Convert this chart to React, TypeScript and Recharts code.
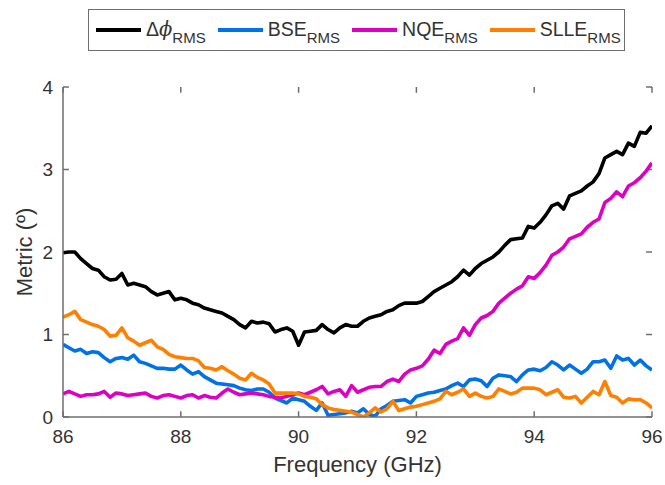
import { LineChart, Line, XAxis, YAxis, ReferenceLine, Legend } from "recharts";

const FREQ = [
  86.0, 86.1, 86.2, 86.3, 86.4, 86.5, 86.6, 86.7, 86.8, 86.9,
  87.0, 87.1, 87.2, 87.3, 87.4, 87.5, 87.6, 87.7, 87.8, 87.9,
  88.0, 88.1, 88.2, 88.3, 88.4, 88.5, 88.6, 88.7, 88.8, 88.9,
  89.0, 89.1, 89.2, 89.3, 89.4, 89.5, 89.6, 89.7, 89.8, 89.9,
  90.0, 90.1, 90.2, 90.3, 90.4, 90.5, 90.6, 90.7, 90.8, 90.9,
  91.0, 91.1, 91.2, 91.3, 91.4, 91.5, 91.6, 91.7, 91.8, 91.9,
  92.0, 92.1, 92.2, 92.3, 92.4, 92.5, 92.6, 92.7, 92.8, 92.9,
  93.0, 93.1, 93.2, 93.3, 93.4, 93.5, 93.6, 93.7, 93.8, 93.9,
  94.0, 94.1, 94.2, 94.3, 94.4, 94.5, 94.6, 94.7, 94.8, 94.9,
  95.0, 95.1, 95.2, 95.3, 95.4, 95.5, 95.6, 95.7, 95.8, 95.9,
  96.0,
];

// delta phi RMS
const DPHI = [
  1.99, 2.0, 2.0, 1.92, 1.86, 1.8, 1.78, 1.7, 1.66, 1.67,
  1.74, 1.6, 1.62, 1.6, 1.58, 1.52, 1.48, 1.5, 1.52, 1.42,
  1.44, 1.42, 1.38, 1.36, 1.32, 1.3, 1.28, 1.26, 1.22, 1.18,
  1.12, 1.08, 1.16, 1.14, 1.15, 1.13, 1.03, 1.06, 1.08, 1.04,
  0.87, 1.03, 1.04, 1.05, 1.12, 1.06, 1.02, 1.08, 1.12, 1.1,
  1.1, 1.16, 1.2, 1.22, 1.24, 1.28, 1.3, 1.35, 1.38, 1.38,
  1.38, 1.4, 1.46, 1.52, 1.56, 1.6, 1.64, 1.7, 1.78, 1.72,
  1.8, 1.86, 1.9, 1.94, 2.0, 2.08, 2.15, 2.16, 2.17, 2.31,
  2.29, 2.36, 2.45, 2.56, 2.59, 2.52, 2.68, 2.71, 2.74, 2.8,
  2.85, 2.95, 3.14, 3.18, 3.22, 3.18, 3.32, 3.28, 3.45, 3.44,
  3.53,
];

const BSE = [
  0.88, 0.84, 0.8, 0.82, 0.77, 0.79, 0.78, 0.72, 0.67, 0.71,
  0.72, 0.7, 0.75, 0.67, 0.65, 0.62, 0.59, 0.59, 0.58, 0.58,
  0.63, 0.57, 0.52, 0.55, 0.49, 0.45, 0.41, 0.4, 0.39, 0.38,
  0.35, 0.33, 0.32, 0.34, 0.34, 0.3, 0.23, 0.2, 0.17, 0.23,
  0.21, 0.19, 0.13, 0.08, 0.17, 0.02, 0.03, 0.04, 0.05, 0.07,
  0.05, 0.1, 0.03, 0.01, 0.1, 0.14, 0.19, 0.2, 0.21, 0.17,
  0.25, 0.27, 0.29, 0.3, 0.32, 0.34, 0.38, 0.41, 0.37, 0.45,
  0.46, 0.44, 0.37, 0.47, 0.51, 0.5, 0.49, 0.43, 0.51, 0.57,
  0.58, 0.56, 0.6, 0.67, 0.63, 0.57, 0.63, 0.58, 0.53, 0.58,
  0.67, 0.67, 0.69, 0.59, 0.74, 0.69, 0.71, 0.63, 0.69, 0.62,
  0.57,
];

const NQE = [
  0.28, 0.31, 0.28, 0.25, 0.27, 0.27, 0.28, 0.31, 0.24, 0.29,
  0.28, 0.26, 0.27, 0.28, 0.29, 0.25, 0.23, 0.26, 0.27, 0.25,
  0.23, 0.26, 0.27, 0.23, 0.26, 0.24, 0.23, 0.29, 0.34, 0.3,
  0.27, 0.28, 0.29, 0.28, 0.27, 0.25, 0.24, 0.23, 0.25, 0.27,
  0.29, 0.27, 0.3, 0.33, 0.37, 0.28, 0.31, 0.33, 0.25, 0.38,
  0.3, 0.33, 0.36, 0.37, 0.37, 0.43, 0.46, 0.43, 0.52, 0.57,
  0.59, 0.62, 0.7, 0.81, 0.77, 0.88, 0.92, 0.95, 1.08, 0.99,
  1.12, 1.2, 1.23, 1.28, 1.38, 1.44, 1.5, 1.55, 1.59, 1.7,
  1.68, 1.75, 1.84, 1.96, 2.0, 2.06, 2.16, 2.19, 2.22, 2.3,
  2.36, 2.4, 2.6, 2.65, 2.73, 2.67, 2.8, 2.84, 2.9, 2.98,
  3.08,
];

const SLLE = [
  1.21, 1.24, 1.28, 1.18, 1.15, 1.12, 1.1, 1.06, 0.98, 0.99,
  1.08, 0.96, 0.92, 0.87, 0.9, 0.93, 0.85, 0.82, 0.76, 0.73,
  0.72, 0.71, 0.71, 0.68, 0.6, 0.59, 0.57, 0.61, 0.56, 0.52,
  0.47, 0.45, 0.53, 0.48, 0.45, 0.4, 0.29, 0.29, 0.29, 0.29,
  0.28, 0.25, 0.24, 0.22, 0.15, 0.11, 0.09, 0.08, 0.07, 0.06,
  0.03, 0.0, 0.05, 0.11, 0.06, 0.1, 0.19, 0.08, 0.1, 0.12,
  0.13, 0.15, 0.17, 0.19, 0.22, 0.31, 0.27, 0.3, 0.34, 0.25,
  0.29, 0.25, 0.23, 0.25, 0.34, 0.31, 0.28, 0.3, 0.35, 0.35,
  0.35, 0.33, 0.27, 0.3, 0.33, 0.24, 0.23, 0.25, 0.17, 0.24,
  0.31, 0.27, 0.43, 0.26, 0.24, 0.17, 0.22, 0.21, 0.21, 0.17,
  0.11,
];

const X_TICKS = [86, 88, 90, 92, 94, 96];
const Y_TICKS = [0, 1, 2, 3, 4];

const SERIES = [
  { key: "dphi", main: "\u0394", sub: "RMS", color: "#000000" },
  { key: "bse", main: "BSE", sub: "RMS", color: "#0072e6" },
  { key: "nqe", main: "NQE", sub: "RMS", color: "#dc00c4" },
  { key: "slle", main: "SLLE", sub: "RMS", color: "#ff8000" },
];

const data = FREQ.map((f, i) => ({
  f,
  dphi: DPHI[i],
  bse: BSE[i],
  nqe: NQE[i],
  slle: SLLE[i],
}));

const FONT = "'Liberation Sans', Arial, sans-serif";
const AXIS = "#6e6e6e";
const TEXT = "#333333";

const LegendBox = () => (
  <div
    style={{
      display: "flex",
      alignItems: "center",
      height: "100%",
      boxSizing: "border-box",
      border: `1.5px solid ${AXIS}`,
      background: "#fff",
      paddingLeft: 7,
      fontFamily: FONT,
      color: TEXT,
      whiteSpace: "nowrap",
    }}
  >
    {SERIES.map((s) => (
      <div key={s.key} style={{ display: "flex", alignItems: "center", marginRight: 12 }}>
        <div style={{ width: 45, height: 3.5, background: s.color, marginRight: 5 }} />
        <span style={{ fontSize: 19.5, lineHeight: "20px" }}>
          {s.main}
          {s.key === "dphi" && (
            <span style={{ fontFamily: "'DejaVu Serif', serif", fontStyle: "italic" }}>{"\u03d5"}</span>
          )}
          <span style={{ fontSize: 15, position: "relative", top: 7 }}>{s.sub}</span>
        </span>
      </div>
    ))}
  </div>
);

const YLabel = () => {
  const cx = 24;
  const cy = 252;
  return (
    <text
      x={cx}
      y={cy}
      transform={`rotate(-90 ${cx} ${cy})`}
      textAnchor="middle"
      dominantBaseline="central"
      fontFamily={FONT}
      fontSize={22}
      fill={TEXT}
    >
      Metric (º)
    </text>
  );
};

export default function App() {
  return (
    <div style={{ position: "absolute", left: 0, top: 0, width: 665, height: 485, background: "#fff" }}>
      <LineChart
        width={665}
        height={485}
        data={data}
        margin={{ top: 87, right: 13, bottom: 38, left: 23 }}
      >
        <XAxis
          dataKey="f"
          type="number"
          domain={[86, 96]}
          ticks={X_TICKS}
          allowDataOverflow
          height={30}
          tickSize={0}
          tickMargin={13}
          tickLine={false}
          axisLine={{ stroke: AXIS, strokeWidth: 1.5 }}
          tick={{ fontSize: 19, fill: TEXT, fontFamily: FONT }}
          label={{
            value: "Frequency (GHz)",
            position: "bottom",
            offset: 9,
            fontSize: 22,
            fill: TEXT,
            fontFamily: FONT,
          }}
        />
        <XAxis
          xAxisId="top"
          orientation="top"
          dataKey="f"
          type="number"
          domain={[86, 96]}
          height={0}
          tick={false}
          tickLine={false}
          axisLine={{ stroke: AXIS, strokeWidth: 1.5 }}
        />
        <YAxis
          type="number"
          domain={[0, 4]}
          ticks={Y_TICKS}
          allowDataOverflow
          width={40}
          tickSize={0}
          tickMargin={10}
          tickLine={false}
          axisLine={{ stroke: AXIS, strokeWidth: 1.5 }}
          tick={{ fontSize: 19, fill: TEXT, fontFamily: FONT }}
          label={<YLabel />}
        />
        <YAxis
          yAxisId="right"
          orientation="right"
          type="number"
          domain={[0, 4]}
          width={0}
          tick={false}
          tickLine={false}
          axisLine={{ stroke: AXIS, strokeWidth: 1.5 }}
        />
        {X_TICKS.map((t) => (
          <ReferenceLine
            key={`xb${t}`}
            segment={[{ x: t, y: 0 }, { x: t, y: 0.07 }]}
            stroke={AXIS}
            strokeWidth={1.5}
          />
        ))}
        {X_TICKS.map((t) => (
          <ReferenceLine
            key={`xt${t}`}
            segment={[{ x: t, y: 4 }, { x: t, y: 3.93 }]}
            stroke={AXIS}
            strokeWidth={1.5}
          />
        ))}
        {Y_TICKS.map((t) => (
          <ReferenceLine
            key={`yl${t}`}
            segment={[{ x: 86, y: t }, { x: 86.1, y: t }]}
            stroke={AXIS}
            strokeWidth={1.5}
          />
        ))}
        {Y_TICKS.map((t) => (
          <ReferenceLine
            key={`yr${t}`}
            segment={[{ x: 95.9, y: t }, { x: 96, y: t }]}
            stroke={AXIS}
            strokeWidth={1.5}
          />
        ))}
        <Legend
          layout="horizontal"
          verticalAlign="middle"
          content={<LegendBox />}
          wrapperStyle={{ position: "absolute", top: 9, left: 88, width: 537, height: 42 }}
        />
        {SERIES.map((s) => (
          <Line
            key={s.key}
            dataKey={s.key}
            stroke={s.color}
            strokeWidth={3.6}
            dot={false}
            isAnimationActive={false}
            strokeLinejoin="round"
          />
        ))}
      </LineChart>
    </div>
  );
}
